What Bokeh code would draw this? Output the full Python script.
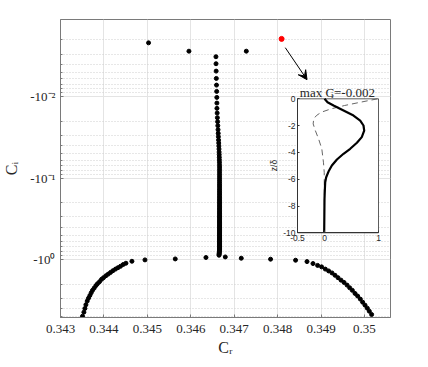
from bokeh.plotting import figure
from bokeh.models import (Range1d, LinearAxis, FixedTicker, CustomJSTickFormatter,
                          Label, Arrow, VeeHead, LinearScale)
from bokeh.embed import file_html
from bokeh.resources import INLINE

# ---------------- data: eigenvalue spectrum (C_r, C_i) ----------------
cr_left = [0.343507, 0.343539, 0.343562, 0.343585, 0.343615, 0.343645, 0.343677, 0.343707,
           0.343737, 0.343776, 0.343816, 0.343852, 0.343899, 0.343945, 0.343991, 0.344046,
           0.344099, 0.344152, 0.344207, 0.344267, 0.344323, 0.344382, 0.344445, 0.344507,
           0.344645]
ci_left = [-4.97, -4.43, -3.99, -3.59, -3.24, -2.98, -2.76, -2.56, -2.39, -2.24, -2.09, -1.98,
           -1.87, -1.75, -1.67, -1.58, -1.51, -1.44, -1.37, -1.31, -1.26, -1.21, -1.15, -1.11,
           -1.05]

cr_mid = [0.344945, 0.345643, 0.346350, 0.346795, 0.347163, 0.347838, 0.348414]
ci_mid = [-1.01, -0.983, -0.944, -0.929, -0.964, -0.99, -1.02]

cr_right = [0.348677, 0.348815, 0.348921, 0.349013, 0.349099, 0.349175, 0.349253, 0.349322,
            0.349391, 0.349460, 0.349530, 0.349599, 0.349659, 0.349721, 0.349783, 0.349843,
            0.349905, 0.349958, 0.350013, 0.350066, 0.350112, 0.350165]
ci_right = [-1.06, -1.12, -1.18, -1.23, -1.31, -1.38, -1.46, -1.56, -1.67, -1.79, -1.91, -2.06,
            -2.22, -2.39, -2.61, -2.81, -3.06, -3.34, -3.63, -3.96, -4.31, -4.73]

cr_top = [0.345028, 0.345958, 0.347279]
ci_top = [-0.00218, -0.00276, -0.00276]

cr_max = [0.348092]
ci_max = [-0.00195]

cr_col = [0.346580, 0.346582, 0.346585, 0.346589, 0.346593, 0.346597, 0.346600, 0.346602,
          0.346603, 0.346608, 0.346613, 0.346618, 0.346623, 0.346628, 0.346632, 0.346636,
          0.346640, 0.346644, 0.346647, 0.346650, 0.346653, 0.346655,
          0.346657, 0.346659, 0.346661, 0.346662, 0.346663, 0.346663, 0.346663, 0.346663,
          0.346663, 0.346663, 0.346663, 0.346663, 0.346663, 0.346663, 0.346663, 0.346663,
          0.346663, 0.346663, 0.346663, 0.346663, 0.346663, 0.346663, 0.346663, 0.346663,
          0.346663, 0.346663, 0.346663, 0.346663, 0.346663, 0.346663, 0.346663, 0.346663,
          0.346663, 0.346663, 0.346663, 0.346663, 0.346663, 0.346663, 0.346663, 0.346663,
          0.346663, 0.346663, 0.346663, 0.346663, 0.346663, 0.346663, 0.346663, 0.346663,
          0.346663, 0.346663, 0.346663, 0.346663, 0.346663, 0.346663, 0.346663, 0.346663,
          0.346663, 0.346663, 0.346663, 0.346663, 0.346663, 0.346663, 0.346663, 0.346663,
          0.346661, 0.346659, 0.346657, 0.346655, 0.346653, 0.346651]
ci_col = [-0.003230, -0.003937, -0.004852, -0.005965, -0.007206, -0.008610, -0.01020, -0.01198,
          -0.01391, -0.01589, -0.01810, -0.02026, -0.02269, -0.02540, -0.02820, -0.03096,
          -0.03408, -0.03710, -0.04038, -0.04394, -0.04783, -0.05148,
          -0.05557, -0.05963, -0.06400, -0.06848, -0.07308, -0.07798, -0.08298, -0.08807,
          -0.09346, -0.09888, -0.1046, -0.1104, -0.1165, -0.1226, -0.1289, -0.1357,
          -0.1423, -0.1493, -0.1566, -0.1639, -0.1715, -0.1795, -0.1873, -0.1953,
          -0.2038, -0.2126, -0.2218, -0.2308, -0.2401, -0.2497, -0.2598, -0.2703,
          -0.2805, -0.2909, -0.3018, -0.3130, -0.3248, -0.3369, -0.3485, -0.3606,
          -0.3730, -0.3859, -0.3992, -0.4130, -0.4272, -0.4407, -0.4546, -0.4690,
          -0.4838, -0.4991, -0.5148, -0.5311, -0.5478, -0.5635, -0.5797, -0.5963,
          -0.6134, -0.6310, -0.6491, -0.6677, -0.6868, -0.7065, -0.7268, -0.7476,
          -0.7691, -0.7911, -0.8138, -0.8371, -0.8611, -0.8858]

# axis ticks / limits / titles
xticks = [0.343, 0.344, 0.345, 0.346, 0.347, 0.348, 0.349, 0.350]
x_limits = [0.343, 0.3506]
y_limits = [-5.15, -0.001127]           # C_i limits
y_major = [0.01, 0.1, 1.0]             # magnitudes of -10^-2, -10^-1, -10^0
y_minor = [0.002, 0.003, 0.004, 0.005, 0.006, 0.007, 0.008, 0.009,
           0.02, 0.03, 0.04, 0.05, 0.06, 0.07, 0.08, 0.09,
           0.2, 0.3, 0.4, 0.5, 0.6, 0.7, 0.8, 0.9, 2.0, 3.0, 4.0, 5.0]
x_title = "C\u1d63"
y_title = "C\u1d62"

# ---------------- inset: eigenfunction of max C_i mode ----------------
inset_z_solid = [0, -0.25, -0.5, -0.87, -1.25, -1.62, -1.99, -2.37, -2.86, -3.28, -3.73,
                 -4.1, -4.53, -4.98, -5.43, -5.85, -6.22, -6.72, -7.46, -10]
inset_u_solid = [0, 0.056, 0.167, 0.352, 0.537, 0.661, 0.722, 0.735, 0.69, 0.6, 0.476,
                 0.352, 0.23, 0.136, 0.074, 0.031, 0.013, 0.007, 0.0, -0.006]
inset_z_dash = [0, -0.25, -0.5, -0.75, -1.0, -1.25, -1.5, -1.87, -2.37, -2.99, -3.73,
                -4.73, -5.5, -10]
inset_u_dash = [0.98, 0.67, 0.37, 0.12, -0.06, -0.15, -0.2, -0.21, -0.17, -0.11, -0.05,
                -0.02, -0.005, 0]
inset_xlim = [-0.5, 1]
inset_zlim = [-10, 0]
inset_xticks = [-0.5, 0, 1]
inset_zticks = [0, -2, -4, -6, -8, -10]
max_ci_text = "-0.002"

# ---------------- figure ----------------
SERIF = "Liberation Serif"
SANS = "Liberation Sans"
AX = "#7a7a7a"
TXT = "#262626"

p = figure(frame_width=330, frame_height=298,
           min_border_left=60, min_border_right=30, min_border_top=19, min_border_bottom=40,
           x_range=Range1d(x_limits[0], x_limits[1]),
           y_range=Range1d(-y_limits[0], -y_limits[1]),
           y_axis_type="log", output_backend="svg", toolbar_location=None,
           background_fill_color="white", border_fill_color="white")
p.outline_line_color = AX

# inset coordinate system (placed inside the main frame)
p.extra_x_ranges = {"ix": Range1d(-4.889, 1.222)}
p.extra_y_ranges = {"iy": Range1d(-16.32, 5.92)}
p.extra_x_scales = {"ix": LinearScale()}
p.extra_y_scales = {"iy": LinearScale()}

xfmt = CustomJSTickFormatter(code="return String(Number(tick.toFixed(3)));")
yfmt = CustomJSTickFormatter(code="""
const e = Math.round(Math.log10(tick));
const sup = {"-": "\u207b", "0": "\u2070", "1": "\u00b9", "2": "\u00b2", "3": "\u00b3", "4": "\u2074"};
let s = "";
for (const ch of String(e)) { s += sup[ch]; }
return "-10" + s;
""")

xa = p.xaxis[0]
xa.ticker = FixedTicker(ticks=xticks)
xa.formatter = xfmt
ya = p.yaxis[0]
ya.ticker = FixedTicker(ticks=y_major, minor_ticks=y_minor)
ya.formatter = yfmt

for ax in (xa, ya):
    ax.axis_line_color = AX
    ax.major_tick_line_color = AX
    ax.minor_tick_line_color = AX
    ax.major_tick_in = 3
    ax.major_tick_out = 0
    ax.major_label_text_font = SERIF
    ax.major_label_text_font_size = "13px"
    ax.major_label_text_color = TXT
    ax.axis_label_text_font = SERIF
    ax.axis_label_text_font_size = "16px"
    ax.axis_label_text_font_style = "normal"
    ax.axis_label_text_color = TXT
xa.minor_tick_in = 0
xa.minor_tick_out = 0
xa.major_label_standoff = 7
xa.axis_label = x_title
xa.axis_label_standoff = 3
ya.minor_tick_in = 2
ya.minor_tick_out = 0
ya.major_label_standoff = 5
ya.axis_label = y_title
ya.axis_label_standoff = 7

p.xgrid.grid_line_color = "#e4e4e4"
p.ygrid.grid_line_color = "#e4e4e4"
p.ygrid.minor_grid_line_color = "#cfcfcf"
p.ygrid.minor_grid_line_dash = "1 2"

# ---------------- spectrum points ----------------
def neg(v):
    return [-a for a in v]

for cr, ci in ((cr_left, ci_left), (cr_mid, ci_mid), (cr_right, ci_right),
               (cr_col, ci_col), (cr_top, ci_top)):
    p.scatter(cr, neg(ci), size=4, color="black")
p.scatter(cr_max, neg(ci_max), size=5, color="#ff0000")

# arrow from the most unstable mode to the inset
p.add_layout(Arrow(end=VeeHead(size=9, fill_color="black", line_color="black", line_width=1),
                   x_start=0.348177, y_start=0.0025, x_end=0.348677, y_end=0.00618,
                   line_color="black", line_width=1))

# ---------------- inset ----------------
p.quad(left=[inset_xlim[0]], right=[inset_xlim[1]], bottom=[inset_zlim[0]], top=[inset_zlim[1]],
       fill_color="white", line_color="#333333", line_width=0.8,
       x_range_name="ix", y_range_name="iy")
p.line(inset_u_dash, inset_z_dash, line_color="#555555", line_width=0.9, line_dash="6 4",
       x_range_name="ix", y_range_name="iy")
p.line(inset_u_solid, inset_z_solid, line_color="black", line_width=2.2,
       x_range_name="ix", y_range_name="iy")

ifmt = CustomJSTickFormatter(code="return String(tick);")
il = LinearAxis(x_range_name="ix", y_range_name="iy", fixed_location=inset_xlim[0],
                bounds=(inset_zlim[0], inset_zlim[1]), ticker=FixedTicker(ticks=inset_zticks),
                formatter=ifmt)
ib = LinearAxis(x_range_name="ix", y_range_name="iy", fixed_location=inset_zlim[0],
                bounds=(inset_xlim[0], inset_xlim[1]), ticker=FixedTicker(ticks=inset_xticks),
                formatter=ifmt)
for ax in (il, ib):
    ax.axis_line_color = "#333333"
    ax.major_tick_line_color = "#333333"
    ax.major_tick_in = 2
    ax.major_tick_out = 0
    ax.minor_tick_in = 0
    ax.minor_tick_out = 0
    ax.major_label_text_font = SANS
    ax.major_label_text_color = TXT
    ax.major_label_standoff = 2
    ax.major_label_text_font_size = "8.5px"
p.add_layout(il, "left")
p.add_layout(ib, "below")

# ---------------- texts inside the frame ----------------
def lab(text, x, y, size, font=SERIF, angle=0.0, align="left", baseline="alphabetic"):
    p.add_layout(Label(x=x, y=y, x_units="screen", y_units="screen", text=text,
                       text_font=font, text_font_size=size, text_color=TXT, angle=angle,
                       text_align=align, text_baseline=baseline))

lab("max C", 239.3, 225.3, "13px")
lab("i", 270.5, 222.5, "9px")
lab("=" + max_ci_text, 273.5, 225.3, "13px")
lab("z/\u03b4", 213, 152, "8.5px", font=SANS, angle=1.5708, align="center")

open("out.html", "w").write(file_html(p, INLINE))
